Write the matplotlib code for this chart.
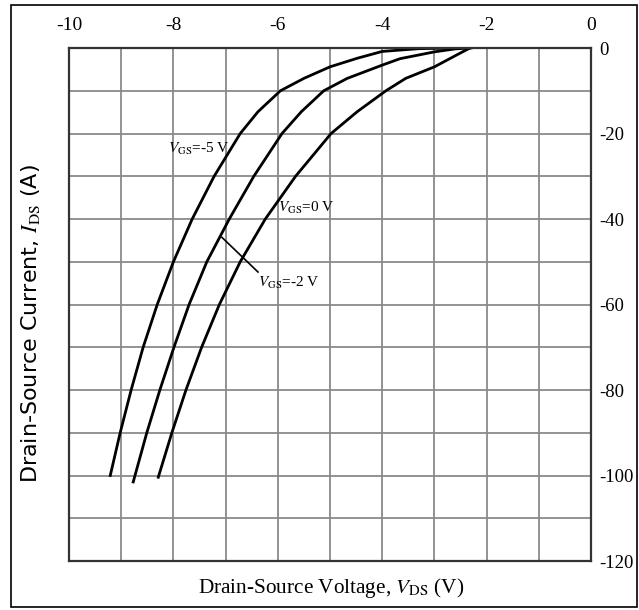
import numpy as np
import matplotlib.pyplot as plt
from matplotlib.patches import Rectangle

plt.rcParams['font.family'] = ['Liberation Serif', 'DejaVu Serif']
plt.rcParams['mathtext.fontset'] = 'stix'

# curves (V_DS in V, I_DS in A)
vds_m5 = [-9.21, -9.02, -8.81, -8.58, -8.31, -8.0, -7.64, -7.22, -6.72, -6.38,
          -5.95, -5.5, -5.0, -4.48, -4.0, -3.3, -2.5]
ids_m5 = [-100, -90, -80, -70, -60, -50, -40, -30, -20, -14.9,
          -10, -7.1, -4.4, -2.4, -0.8, -0.15, 0]

vds_m2 = [-8.77, -8.51, -8.26, -7.99, -7.7, -7.36, -6.93, -6.46, -5.92, -5.55,
          -5.12, -4.67, -4.0, -3.66, -3.0, -2.6, -2.3]
ids_m2 = [-101.5, -90, -80, -70, -60, -50, -40, -30, -20, -14.9,
          -10, -7.1, -4.0, -2.5, -0.9, -0.2, 0]

vds_0 = [-8.29, -8.03, -7.76, -7.46, -7.12, -6.72, -6.24, -5.66, -4.98, -4.48,
         -3.93, -3.55, -3.0, -2.57, -2.32]
ids_0 = [-100.4, -90, -80, -70, -60, -50, -40, -30, -20, -14.9,
         -10, -7.1, -4.4, -1.6, 0]

xticks = [-10, -8, -6, -4, -2, 0]
yticks = [0, -20, -40, -60, -80, -100, -120]

fig = plt.figure(figsize=(6.39, 6.10), dpi=100)
ax = fig.add_axes([0.108, 0.0803, 0.817, 0.841])

ax.plot(vds_m5, ids_m5, color='black', lw=2.0)
ax.plot(vds_m2, ids_m2, color='black', lw=2.0)
ax.plot(vds_0, ids_0, color='black', lw=2.0)

ax.set_xlim(-10, 0)
ax.set_ylim(-120, 0)
ax.set_xticks(np.arange(-10, 1, 1))
ax.set_yticks(np.arange(-120, 1, 10))
ax.grid(True, color='#8a8a8a', lw=1.3)
ax.set_axisbelow(True)

# labels only every 2 V / 20 A, on top and right
ax.xaxis.tick_top()
ax.yaxis.tick_right()
ax.set_xticklabels([str(int(v)) if v in xticks else '' for v in np.arange(-10, 1, 1)])
ax.set_yticklabels([str(int(v)) if v in yticks else '' for v in np.arange(-120, 1, 10)])
ax.tick_params(axis='x', length=0, pad=10, labelsize=14)
ax.tick_params(axis='y', length=0, pad=6, labelsize=13.5)
for s in ax.spines.values():
    s.set_color('#333333')
    s.set_linewidth(1.6)

ax.text(-8.1, -23.5, r'$V_{\rm GS}$=-5 V', fontsize=11, va='center')
ax.text(-6.0, -37.3, r'$V_{\rm GS}$=0 V', fontsize=11, va='center')
ax.text(-6.38, -55.0, r'$V_{\rm GS}$=-2 V', fontsize=11, va='center')
ax.plot([-7.07, -6.38], [-44.3, -52.4], color='black', lw=1.2)

fig.text(0.518, 0.036, r'Drain-Source Voltage, $V_{\rm DS}$ (V)', fontsize=15.3,
         ha='center', va='center')
fig.text(0.047, 0.47, r'Drain-Source Current, $I_{\rm DS}$ (A)', fontsize=16,
         ha='center', va='center', rotation=90, family='DejaVu Sans')

# border around the whole picture
fig.patches.append(Rectangle((0.017, 0.005), 0.98, 0.987, transform=fig.transFigure,
                             fill=False, edgecolor='black', lw=1.2))

fig.savefig('out.png', dpi=100)
